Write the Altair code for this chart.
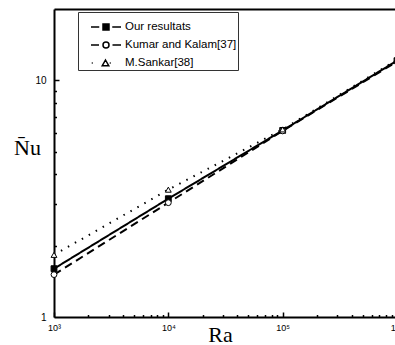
import altair as alt
import pandas as pd

# ---- data ----
ra = [1e3, 1e4, 1e5, 1e6]
series = ["Our resultats", "Kumar and Kalam[37]", "M.Sankar[38]"]
nu_ours = [1.60, 3.16, 6.14, 12.1]
nu_kumar = [1.51, 3.04, 6.11, 12.0]
nu_sankar = [1.83, 3.45, 6.20, 12.2]

x_major = [1e3, 1e4, 1e5, 1e6]
x_major_labels = ["10³", "10⁴", "10⁵", "10⁶"]
x_minor = [m * 10 ** e for e in (3, 4, 5) for m in range(2, 10)]
y_major = [1, 10]
y_major_labels = ["1", "10"]
y_minor = [2, 3, 4, 5, 6, 7, 8, 9]

rows = []
for name, vals in zip(series, [nu_ours, nu_kumar, nu_sankar]):
    for r, v in zip(ra, vals):
        rows.append({"series": name, "Ra": r, "Nu": v})
df = pd.DataFrame(rows)

W, H = 341, 308
XR = 343  # x range slightly wider than the visible plot (right edge is cut off)

xscale = alt.Scale(type="log", domain=[1e3, 1e6], range=[0, XR], nice=False)
yscale = alt.Scale(type="log", domain=[1, 20], nice=False)

def js_list(vals):
    return "[" + ",".join(str(int(v)) for v in vals) + "]"

def js_str_list(vals):
    return "[" + ",".join("'" + s + "'" for s in vals) + "]"

x_label_expr = f"{js_str_list(x_major_labels)}[indexof({js_list(x_major)}, datum.value)]"
y_label_expr = f"{js_str_list(y_major_labels)}[indexof({js_list(y_major)}, datum.value)]"

# lines with main axes
lines = alt.Chart(df).mark_line(color="black", clip=True).encode(
    x=alt.X("Ra:Q", scale=xscale, axis=alt.Axis(
        orient="bottom", values=x_major, labelExpr=x_label_expr,
        labelFont="Liberation Sans", labelFontSize=9, labelColor="black",
        labelPadding=6, labelFlush=False, labelOverlap=False,
        ticks=False, grid=False, domain=True, domainColor="black", domainWidth=2,
        title="Ra", titleFont="Liberation Serif", titleFontSize=22,
        titleFontWeight="normal", titleColor="black", titleX=166, titleY=24,
        titleAlign="center", titleBaseline="alphabetic")),
    y=alt.Y("Nu:Q", scale=yscale, axis=alt.Axis(
        orient="left", values=y_major, labelExpr=y_label_expr,
        labelFont="Liberation Sans", labelFontSize=10, labelColor="black",
        labelPadding=8, labelFlush=False, labelOverlap=False,
        ticks=False, grid=False, domain=True, domainColor="black", domainWidth=2,
        title="N\u0304u", titleFont="Liberation Serif", titleFontSize=22,
        titleFontWeight="normal", titleColor="black", titleAngle=0,
        titleX=-27, titleY=145, titleAlign="center", titleBaseline="alphabetic")),
    strokeDash=alt.StrokeDash("series:N", scale=alt.Scale(
        domain=series, range=[[1, 0], [8, 5], [1.5, 6.5]]), legend=None),
    strokeWidth=alt.StrokeWidth("series:N", scale=alt.Scale(
        domain=series, range=[2, 2, 1.6]), legend=None),
)

x_tick_test = f"indexof({js_list(x_major)}, datum.value) >= 0"
y_tick_test = f"indexof({js_list(y_major)}, datum.value) >= 0"

# markers, plus inward-pointing ticks
points = alt.Chart(df).mark_point(filled=True, stroke="black", strokeWidth=1,
                                  size=34, opacity=1).encode(
    x=alt.X("Ra:Q", scale=xscale, axis=alt.Axis(
        orient="top", offset=-H, values=x_major + x_minor, labels=False,
        domain=False, grid=False, title=None, ticks=True, tickColor="black",
        tickWidth=1.5,
        tickSize={"condition": {"test": x_tick_test, "value": 5}, "value": 2.5})),
    y=alt.Y("Nu:Q", scale=yscale, axis=alt.Axis(
        orient="right", offset=-W, values=y_minor + [10], labels=False,
        domain=False, grid=False, title=None, ticks=True, tickColor="black",
        tickWidth=1.5,
        tickSize={"condition": {"test": y_tick_test, "value": 5}, "value": 2.5})),
    shape=alt.Shape("series:N", scale=alt.Scale(
        domain=series, range=["square", "circle", "triangle-up"]), legend=None),
    fill=alt.Fill("series:N", scale=alt.Scale(
        domain=series, range=["black", "white", "white"]), legend=None),
)

# legend-only layer (no marks drawn) + top border
legend_paths = [
    "M-3,0H-1.35M1.25,0H3M-0.6,-0.6H0.6V0.6H-0.6ZM-0.6,-0.3H0.6M-0.6,0H0.6M-0.6,0.3H0.6",
    "M-3,0H-1.4M1.3,0H3M0.6,0A0.6,0.6,0,1,1,-0.6,0A0.6,0.6,0,1,1,0.6,0Z",
    "M-2.85,0H-2.65M0.75,0H0.95M-0.1,-0.6L0.55,0.55L-0.75,0.55Z",
]
leg = alt.Legend(
    orient="none", legendX=24, legendY=3, title=" ",
    titleFontSize=6, titlePadding=2,
    labelFont="Liberation Sans", labelFontSize=11.5, labelColor="black",
    labelExpr="datum.label + '    '",
    symbolSize=100, symbolStrokeColor="black", symbolStrokeWidth=1.5,
    symbolFillColor="transparent", symbolOpacity=1,
    strokeColor="#333333", fillColor="white",
    padding=1, rowPadding=6, labelOffset=13, symbolOffset=21)

legend_layer = alt.Chart(df).mark_point(filled=False, color="black",
                                        strokeWidth=1.5, size=100,
                                        opacity=1).transform_filter(
    "false").encode(
    x=alt.X("Ra:Q", scale=xscale, axis=alt.Axis(
        orient="top", offset=0, domain=True, domainColor="black",
        domainWidth=2, ticks=False, labels=False, grid=False, title=None)),
    y=alt.Y("Nu:Q", scale=yscale, axis=None),
    shape=alt.Shape("series:N", scale=alt.Scale(domain=series, range=legend_paths),
                    legend=leg),
)

chart = alt.layer(lines, points, legend_layer).resolve_scale(
    shape="independent", fill="independent"
).resolve_axis(
    x="independent", y="independent"
).properties(
    width=W, height=H,
    autosize=alt.AutoSizeParams(type="none"),
    padding={"left": 54, "top": 9, "right": 0, "bottom": 28},
    background="white",
).configure_view(strokeWidth=0)

chart.save("out.html", embed_options={"renderer": "svg", "actions": False})
